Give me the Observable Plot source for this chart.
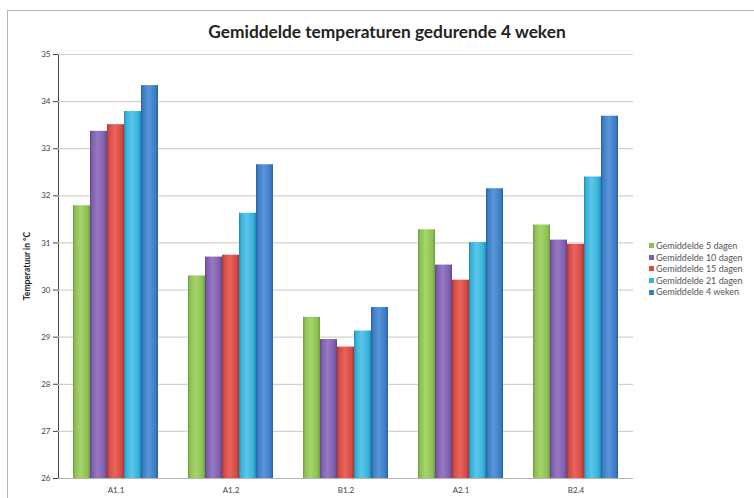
<!DOCTYPE html>
<html>
<head>
<meta charset="utf-8">
<script src="https://cdn.jsdelivr.net/npm/d3@7"></script>
<script src="https://cdn.jsdelivr.net/npm/@observablehq/plot@0.6"></script>
<style>
  html, body { margin: 0; padding: 0; background: #fff; }
  #wrap { position: relative; width: 754px; height: 498px; overflow: hidden; font-family: Lato, "Open Sans", sans-serif; }
  #border { position: absolute; left: 7px; top: 10px; width: 800px; height: 600px; border-left: 1px solid #b5b5b5; border-top: 1px solid #b5b5b5; }
  #title { position: absolute; left: 7px; width: 760px; top: 21px; text-align: center; font-weight: bold; font-size: 17.3px; color: #222; }
  #ytitle { position: absolute; left: 27px; top: 266px; transform: translate(-50%, -50%) rotate(-90deg); font-weight: bold; font-size: 8.5px; color: #222; white-space: nowrap; }
  #legend { position: absolute; left: 649px; top: 240px; font-size: 9px; color: #555; }
  #legend div { height: 11.6px; line-height: 11.6px; white-space: nowrap; }
  #legend span.sw { display: inline-block; width: 5px; height: 5px; margin-right: 2px; vertical-align: middle; position: relative; top: -1px; }
  #chart { position: absolute; left: 0; top: 0; }
</style>
</head>
<body>
<div id="wrap">
  <div id="border"></div>
  <div id="chart"></div>
  <div id="title">Gemiddelde temperaturen gedurende 4 weken</div>
  <div id="ytitle">Temperatuur in °C</div>
  <div id="legend"></div>
</div>
<script>
const categories = ["A1.1", "A1.2", "B1.2", "A2.1", "B2.4"];
const seriesNames = ["Gemiddelde 5 dagen", "Gemiddelde 10 dagen", "Gemiddelde 15 dagen", "Gemiddelde 21 dagen", "Gemiddelde 4 weken"];
const gem5dagen  = [31.79, 30.30, 29.42, 31.28, 31.38];
const gem10dagen = [33.37, 30.70, 28.95, 30.53, 31.06];
const gem15dagen = [33.51, 30.74, 28.79, 30.21, 30.97];
const gem21dagen = [33.79, 31.63, 29.13, 31.01, 32.40];
const gem4weken  = [34.34, 32.66, 29.63, 32.15, 33.69];
const yTicks = [26, 27, 28, 29, 30, 31, 32, 33, 34, 35];

const colors = ["#8cc152", "#7e5fae", "#d74a44", "#36b2db", "#3b7dc6"];
const darks  = ["#6f9a3e", "#5f468a", "#a83530", "#2389ad", "#2b5f9c"];
const lights = ["#a6d46c", "#9679c4", "#e8645d", "#5cc6e8", "#5a96d8"];

const seriesValues = [gem5dagen, gem10dagen, gem15dagen, gem21dagen, gem4weken];
const data = [];
categories.forEach((c, i) => {
  seriesNames.forEach((s, j) => {
    data.push({cat: c, series: s, value: seriesValues[j][i]});
  });
});

const chart = Plot.plot({
  width: 754,
  height: 498,
  marginLeft: 57,
  marginRight: 121,
  marginTop: 54,
  marginBottom: 20,
  style: {fontFamily: "Lato, 'Open Sans', sans-serif", fontSize: "8px", color: "#444", background: "transparent", overflow: "visible"},
  fx: {domain: categories, padding: 0, axis: "bottom", label: null, tickSize: 0, tickPadding: 9},
  x: {domain: seriesNames, paddingInner: 0, paddingOuter: 0.745, axis: null},
  y: {domain: [26, 35], ticks: yTicks, tickSize: 5, tickPadding: 3, label: null, line: true, tickFormat: d => String(d)},
  color: {domain: seriesNames, range: seriesNames.map((s, j) => `url(#grad${j})`)},
  marks: [
    Plot.ruleY(yTicks.filter(t => t > 26), {stroke: "#d6d1cc", strokeWidth: 1.2}),
    Plot.barY(data, {fx: "cat", x: "series", y1: 26, y2: "value", fill: "series"}),
    Plot.ruleY([26], {stroke: "#b8b3ae", strokeWidth: 1})
  ]
});

// gradient definitions for Excel-like shaded bars
const ns = "http://www.w3.org/2000/svg";
const svg = chart.tagName.toLowerCase() === "svg" ? chart : chart.querySelector("svg");
const defs = document.createElementNS(ns, "defs");
colors.forEach((c, j) => {
  const g = document.createElementNS(ns, "linearGradient");
  g.setAttribute("id", `grad${j}`);
  g.setAttribute("x1", "0"); g.setAttribute("x2", "1"); g.setAttribute("y1", "0"); g.setAttribute("y2", "0");
  [[0, darks[j]], [0.12, c], [0.45, lights[j]], [0.85, c], [1, darks[j]]].forEach(([o, col]) => {
    const st = document.createElementNS(ns, "stop");
    st.setAttribute("offset", o);
    st.setAttribute("stop-color", col);
    g.appendChild(st);
  });
  defs.appendChild(g);
});
svg.insertBefore(defs, svg.firstChild);

document.getElementById("chart").appendChild(chart);

const legend = document.getElementById("legend");
seriesNames.forEach((s, j) => {
  const row = document.createElement("div");
  const sw = document.createElement("span");
  sw.className = "sw";
  sw.style.background = colors[j];
  row.appendChild(sw);
  row.appendChild(document.createTextNode(s));
  legend.appendChild(row);
});
</script>
</body>
</html>
